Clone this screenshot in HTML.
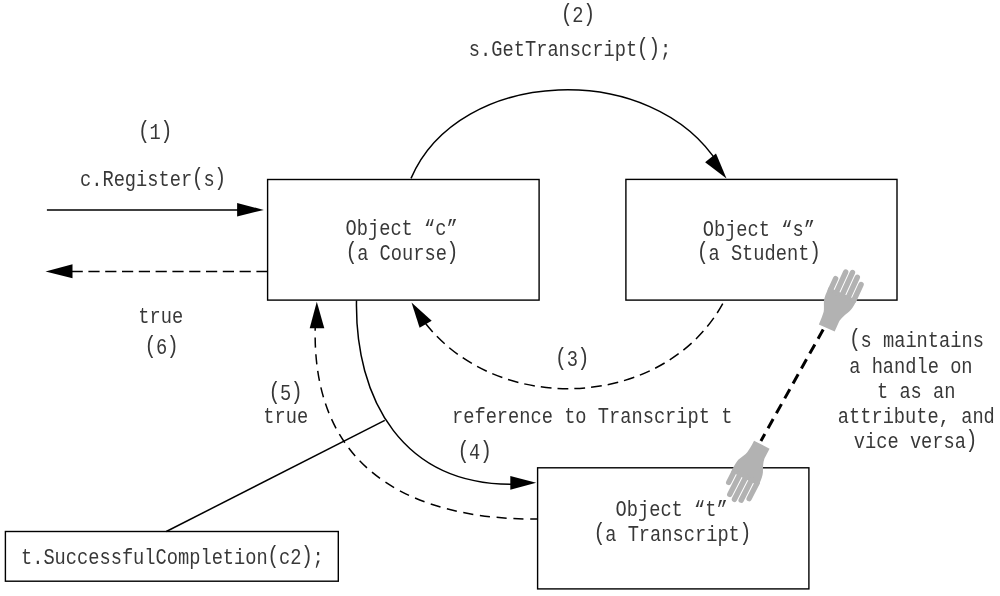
<!DOCTYPE html>
<html><head><meta charset="utf-8">
<style>
html,body{margin:0;padding:0;background:#fff;width:1000px;height:596px;overflow:hidden}
svg{display:block;will-change:transform}
text{font-family:"Liberation Mono",monospace;font-size:22px;fill:#383838}
</style></head><body>
<svg width="1000" height="596" viewBox="0 0 1000 596">
<g fill="none" stroke="#000" stroke-width="1.4">
  <rect x="267.6" y="179.5" width="271.5" height="120.6"/>
  <rect x="625.9" y="179.4" width="271.1" height="120.7"/>
  <rect x="537.6" y="467.8" width="271.3" height="121.1"/>
  <rect x="5.4" y="531.5" width="332.9" height="49.7"/>
</g>
<g fill="none" stroke="#000" stroke-width="1.5">
  <path d="M46.9 209.9 H245"/>
  <path d="M267.6 271.4 H60" stroke-dasharray="11.2 5.6"/>
  <path d="M411.0 178.4 C459.4 66.3 652.9 59.4 718.8 164.6"/>
  <path d="M724.5 300.5 C666.1 411.7 492.1 418.7 420.0 316.1" stroke-dasharray="10.8 6" stroke-dashoffset="13.2"/>
  <path d="M356.5 300.4 C354.8 397.5 401.6 488.6 520.2 484.1"/>
  <path d="M537.0 519.0 C463.5 519.5 305.5 503.1 315.6 317.7" stroke-dasharray="10.2 6.6" stroke-dashoffset="3.2"/>
  <path d="M384.8 420.4 L166.3 531.5"/>
</g>
<g fill="#000" stroke="none">
  <polygon points="263.8,209.9 237.1,203 237.1,216.6"/>
  <polygon points="45.5,271.4 72.5,264.3 72.5,278.3"/>
  <polygon points="726.5,178.6 705.1,162.3 716,153.5"/>
  <polygon points="411.5,302.6 419.6,327.7 431.7,320.7"/>
  <polygon points="536.2,482.8 510.3,475.9 510.3,489.7"/>
  <polygon points="316.8,301.7 309.7,328.2 324.3,328.2"/>
</g>
<path d="M823.2 329.5 L760.9 441" stroke="#000" stroke-width="3" stroke-dasharray="10.5 6.6" fill="none"/>

<g transform="translate(826.75 328) rotate(24.5)">
    <path d="M-8.7 0 L8.7 0 L8.6 -11 C9.2 -15 10.5 -18 13.5 -24 C14.8 -27 15.4 -31 15.6 -36 L15.6 -38 L-15 -38 L-15 -36 C-15 -31 -14.8 -28 -14.1 -24.2 C-12.5 -20 -10 -16 -9.5 -13.4 C-9 -10 -8.7 -6 -8.7 0 Z" fill="#b2b2b2"/>
    <g stroke="#b2b2b2" stroke-width="5.4" stroke-linecap="round">
      <line x1="-12.4" y1="-36" x2="-12.4" y2="-48.6"/>
      <line x1="-6.0" y1="-36" x2="-6.0" y2="-58.8"/>
      <line x1="0.4" y1="-36" x2="0.4" y2="-61.1"/>
      <line x1="6.8" y1="-36" x2="6.8" y2="-58.8"/>
      <line x1="13.2" y1="-36" x2="13.2" y2="-53.8"/>
    </g>
  </g>
<g transform="translate(761.8 444.7) rotate(207) scale(-1 1)">
    <path d="M-8.7 0 L8.7 0 L8.6 -11 C9.2 -15 10.5 -18 13.5 -24 C14.8 -27 15.4 -31 15.6 -36 L15.6 -38 L-15 -38 L-15 -36 C-15 -31 -14.8 -28 -14.1 -24.2 C-12.5 -20 -10 -16 -9.5 -13.4 C-9 -10 -8.7 -6 -8.7 0 Z" fill="#b2b2b2"/>
    <g stroke="#b2b2b2" stroke-width="5.4" stroke-linecap="round">
      <line x1="-12.4" y1="-36" x2="-12.4" y2="-48.6"/>
      <line x1="-6.0" y1="-36" x2="-6.0" y2="-58.8"/>
      <line x1="0.4" y1="-36" x2="0.4" y2="-61.1"/>
      <line x1="6.8" y1="-36" x2="6.8" y2="-58.8"/>
      <line x1="13.2" y1="-36" x2="13.2" y2="-53.8"/>
    </g>
  </g>
<g text-anchor="middle">
  <g transform="translate(578.3 22) scale(0.85 1)"><text><tspan font-size="23.5" dy="-1" dx="-0.45">(</tspan><tspan dy="1" dx="-0.45">2</tspan><tspan font-size="23.5" dy="-1" dx="-0.45">)</tspan></text></g>
  <g transform="translate(570 56) scale(0.85 1)"><text>s.GetTranscript<tspan font-size="23.5" dy="-1" dx="-0.45">(</tspan><tspan font-size="23.5" dx="-0.45">)</tspan><tspan dy="1" dx="-0.45">;</tspan></text></g>
  <g transform="translate(155.6 138.7) scale(0.85 1)"><text><tspan font-size="23.5" dy="-1" dx="-0.45">(</tspan><tspan dy="1" dx="-0.45">1</tspan><tspan font-size="23.5" dy="-1" dx="-0.45">)</tspan></text></g>
  <g transform="translate(153.1 185.7) scale(0.85 1)"><text>c.Register<tspan font-size="23.5" dy="-1" dx="-0.45">(</tspan><tspan dy="1" dx="-0.45">s</tspan><tspan font-size="23.5" dy="-1" dx="-0.45">)</tspan></text></g>
  <g transform="translate(401.6 234.7) scale(0.85 1)"><text>Object “c”</text></g>
  <g transform="translate(402.4 259.7) scale(0.85 1)"><text><tspan font-size="23.5" dy="-1" dx="-0.45">(</tspan><tspan dy="1" dx="-0.45">a</tspan> Course<tspan font-size="23.5" dy="-1" dx="-0.45">)</tspan></text></g>
  <g transform="translate(758.8 235.9) scale(0.85 1)"><text>Object “s”</text></g>
  <g transform="translate(759.3 260.4) scale(0.85 1)"><text><tspan font-size="23.5" dy="-1" dx="-0.45">(</tspan><tspan dy="1" dx="-0.45">a</tspan> Student<tspan font-size="23.5" dy="-1" dx="-0.45">)</tspan></text></g>
  <g transform="translate(160.8 323.2) scale(0.85 1)"><text>true</text></g>
  <g transform="translate(162 353.7) scale(0.85 1)"><text><tspan font-size="23.5" dy="-1" dx="-0.45">(</tspan><tspan dy="1" dx="-0.45">6</tspan><tspan font-size="23.5" dy="-1" dx="-0.45">)</tspan></text></g>
  <g transform="translate(572.7 365.9) scale(0.85 1)"><text><tspan font-size="23.5" dy="-1" dx="-0.45">(</tspan><tspan dy="1" dx="-0.45">3</tspan><tspan font-size="23.5" dy="-1" dx="-0.45">)</tspan></text></g>
  <g transform="translate(286 399.5) scale(0.85 1)"><text><tspan font-size="23.5" dy="-1" dx="-0.45">(</tspan><tspan dy="1" dx="-0.45">5</tspan><tspan font-size="23.5" dy="-1" dx="-0.45">)</tspan></text></g>
  <g transform="translate(285.7 423.3) scale(0.85 1)"><text>true</text></g>
  <g transform="translate(592.2 422.6) scale(0.85 1)"><text>reference to Transcript t</text></g>
  <g transform="translate(475.1 458.5) scale(0.85 1)"><text><tspan font-size="23.5" dy="-1" dx="-0.45">(</tspan><tspan dy="1" dx="-0.45">4</tspan><tspan font-size="23.5" dy="-1" dx="-0.45">)</tspan></text></g>
  <g transform="translate(916.8 347) scale(0.85 1)"><text><tspan font-size="23.5" dy="-1" dx="-0.45">(</tspan><tspan dy="1" dx="-0.45">s</tspan> maintains</text></g>
  <g transform="translate(916.5 372.8) scale(0.85 1)"><text xml:space="preserve">a handle on </text></g>
  <g transform="translate(916.2 397.5) scale(0.85 1)"><text>t as an</text></g>
  <g transform="translate(916.3 423.3) scale(0.85 1)"><text>attribute, and</text></g>
  <g transform="translate(915.7 448) scale(0.85 1)"><text>vice versa<tspan font-size="23.5" dy="-1" dx="-0.45">)</tspan></text></g>
  <g transform="translate(671.6 515.5) scale(0.85 1)"><text>Object “t”</text></g>
  <g transform="translate(672.9 540.7) scale(0.85 1)"><text><tspan font-size="23.5" dy="-1" dx="-0.45">(</tspan><tspan dy="1" dx="-0.45">a</tspan> Transcript<tspan font-size="23.5" dy="-1" dx="-0.45">)</tspan></text></g>
  <g transform="translate(172.4 563.5) scale(0.85 1)"><text>t.SuccessfulCompletion<tspan font-size="23.5" dy="-1" dx="-0.45">(</tspan><tspan dy="1" dx="-0.45">c</tspan>2<tspan font-size="23.5" dy="-1" dx="-0.45">)</tspan><tspan dy="1" dx="-0.45">;</tspan></text></g>
</g>
</svg>
</body></html>
